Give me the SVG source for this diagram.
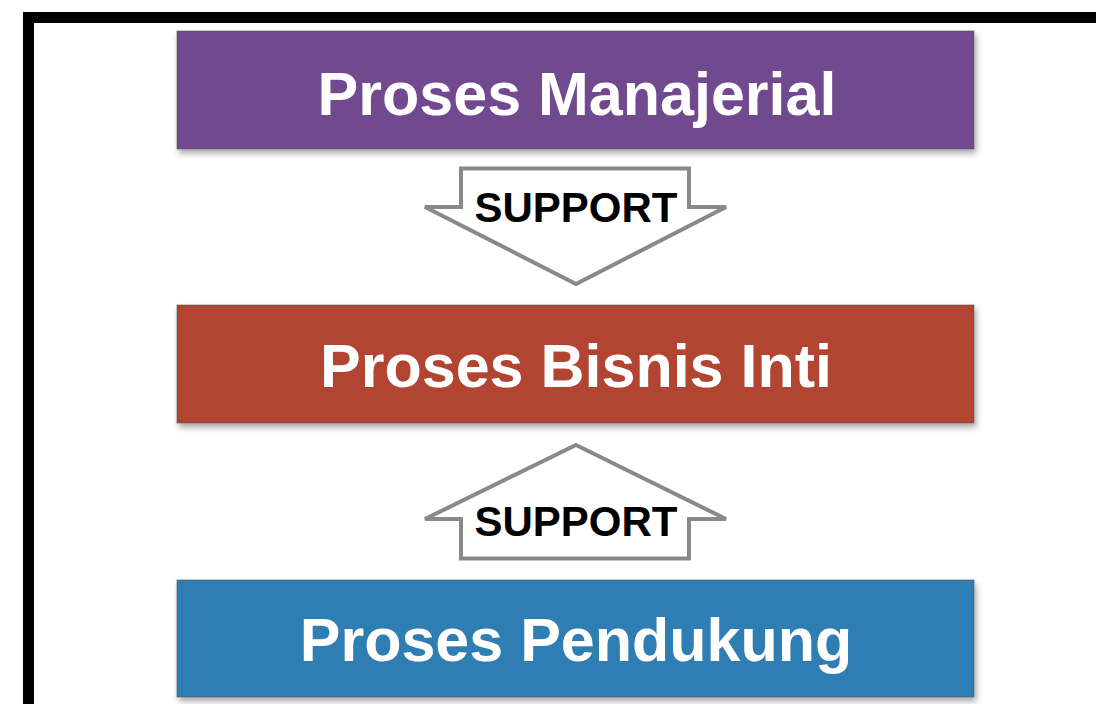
<svg xmlns="http://www.w3.org/2000/svg" width="1096" height="704" viewBox="0 0 1096 704">
  <defs>
    <filter id="shadow" x="-5%" y="-20%" width="110%" height="150%">
      <feGaussianBlur in="SourceAlpha" stdDeviation="3"/>
      <feOffset dx="2" dy="4" result="b"/>
      <feComponentTransfer><feFuncA type="linear" slope="0.35"/></feComponentTransfer>
      <feMerge><feMergeNode/><feMergeNode in="SourceGraphic"/></feMerge>
    </filter>
  </defs>
  <style>
    .box { stroke: #555; stroke-width: 0.6; }
    .title { font-family: "Liberation Sans", Arial, sans-serif; font-weight: bold; font-size: 61px; fill: #ffffff; text-anchor: middle; }
    .arrow { fill: #ffffff; stroke: #87898b; stroke-width: 4; stroke-linejoin: miter; }
    .label { font-family: "Liberation Sans", Arial, sans-serif; font-weight: bold; font-size: 42px; fill: #000000; text-anchor: middle; }
  </style>
  <rect width="1096" height="704" fill="#ffffff"/>
  <!-- outer frame -->
  <rect x="28.5" y="17.5" width="1200" height="800" fill="none" stroke="#000" stroke-width="11"/>

  <g id="connectors">
    <g id="support-down">
      <polygon class="arrow" points="461,168.5 689,168.5 689,207 726,207 576,284 425,207 461,207"/>
      <text class="label" x="576" y="222">SUPPORT</text>
    </g>
    <g id="support-up">
      <polygon class="arrow" points="576,445 726,519 689,519 689,558.5 461,558.5 461,519 425,519"/>
      <text class="label" x="576" y="536">SUPPORT</text>
    </g>
  </g>

  <g id="proses-manajerial">
    <rect class="box" x="177" y="31" width="797" height="118" fill="#6f4a8e" filter="url(#shadow)"/>
    <text class="title" x="577" y="115">Proses Manajerial</text>
  </g>
  <g id="proses-bisnis-inti">
    <rect class="box" x="177" y="305" width="797" height="118" fill="#b14532" filter="url(#shadow)"/>
    <text class="title" x="576" y="387">Proses Bisnis Inti</text>
  </g>
  <g id="proses-pendukung">
    <rect class="box" x="177" y="580" width="797" height="117" fill="#2f7db3" filter="url(#shadow)"/>
    <text class="title" x="576" y="661">Proses Pendukung</text>
  </g>
</svg>
